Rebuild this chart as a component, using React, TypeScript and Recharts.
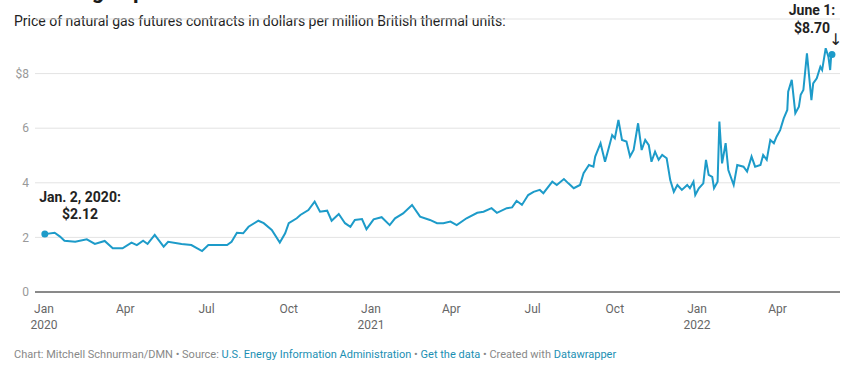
import React from 'react';
import { CartesianGrid, Line, LineChart, XAxis, YAxis } from 'recharts';

// Henry Hub natural gas futures, $/MMBtu
const dates = [
  '2020-01-02', '2020-01-13', '2020-01-19', '2020-01-24', '2020-02-05', '2020-02-18', '2020-02-27', '2020-03-09',
  '2020-03-18', '2020-03-29', '2020-04-08', '2020-04-14', '2020-04-21', '2020-04-26', '2020-05-04', '2020-05-14',
  '2020-05-19', '2020-06-03', '2020-06-14', '2020-06-26', '2020-07-03', '2020-07-14', '2020-07-24', '2020-07-29',
  '2020-08-04', '2020-08-11', '2020-08-17', '2020-08-28', '2020-09-03', '2020-09-12', '2020-09-21', '2020-09-27',
  '2020-10-01', '2020-10-10', '2020-10-14', '2020-10-23', '2020-10-30', '2020-11-05', '2020-11-13', '2020-11-18',
  '2020-11-26', '2020-12-03', '2020-12-09', '2020-12-14', '2020-12-22', '2020-12-27', '2021-01-04', '2021-01-13',
  '2021-01-22', '2021-01-28', '2021-02-06', '2021-02-16', '2021-02-25', '2021-03-08', '2021-03-16', '2021-03-23',
  '2021-03-31', '2021-04-07', '2021-04-18', '2021-04-30', '2021-05-07', '2021-05-16', '2021-05-22', '2021-06-02',
  '2021-06-08', '2021-06-13', '2021-06-19', '2021-06-26', '2021-07-02', '2021-07-09', '2021-07-13', '2021-07-23',
  '2021-07-28', '2021-08-05', '2021-08-10', '2021-08-16', '2021-08-23', '2021-08-27', '2021-09-02', '2021-09-07',
  '2021-09-09', '2021-09-15', '2021-09-20', '2021-09-24', '2021-09-28', '2021-10-01', '2021-10-05', '2021-10-09',
  '2021-10-14', '2021-10-18', '2021-10-22', '2021-10-27', '2021-10-31', '2021-11-04', '2021-11-08', '2021-11-11',
  '2021-11-15', '2021-11-19', '2021-11-23', '2021-11-28', '2021-12-02', '2021-12-06', '2021-12-10', '2021-12-15',
  '2021-12-21', '2021-12-24', '2021-12-28', '2021-12-30', '2022-01-03', '2022-01-08', '2022-01-11', '2022-01-14',
  '2022-01-18', '2022-01-20', '2022-01-24', '2022-01-26', '2022-01-29', '2022-02-02', '2022-02-05', '2022-02-11',
  '2022-02-15', '2022-02-22', '2022-02-26', '2022-03-03', '2022-03-07', '2022-03-13', '2022-03-16', '2022-03-20',
  '2022-03-24', '2022-03-28', '2022-03-31', '2022-04-04', '2022-04-08', '2022-04-12', '2022-04-13', '2022-04-17',
  '2022-04-21', '2022-04-25', '2022-04-27', '2022-04-30', '2022-05-04', '2022-05-09', '2022-05-11', '2022-05-15',
  '2022-05-19', '2022-05-21', '2022-05-25', '2022-05-28', '2022-05-30', '2022-05-31', '2022-06-01',
];

const prices = [
  2.12, 2.17, 2.03, 1.88, 1.84, 1.93, 1.76, 1.87,
  1.6, 1.6, 1.81, 1.72, 1.88, 1.76, 2.09, 1.66,
  1.84, 1.76, 1.72, 1.5, 1.72, 1.72, 1.72, 1.84,
  2.17, 2.15, 2.39, 2.61, 2.52, 2.27, 1.81, 2.15,
  2.52, 2.7, 2.82, 3.0, 3.31, 2.94, 2.98, 2.61,
  2.86, 2.52, 2.39, 2.64, 2.67, 2.3, 2.66, 2.74,
  2.45, 2.7, 2.88, 3.19, 2.76, 2.64, 2.52, 2.52,
  2.58, 2.45, 2.7, 2.9, 2.94, 3.07, 2.9, 3.07,
  3.1, 3.34, 3.19, 3.55, 3.67, 3.74, 3.62, 4.04,
  3.92, 4.14, 3.98, 3.8, 3.92, 4.35, 4.65, 4.59,
  4.96, 5.45, 4.77, 5.26, 5.75, 5.63, 6.3, 5.57,
  5.51, 4.96, 5.2, 6.18, 5.2, 5.57, 5.38, 4.77,
  5.14, 4.84, 5.02, 4.9, 4.1, 3.67, 3.92, 3.74,
  3.92, 3.8, 4.04, 3.55, 3.8, 3.98, 4.84, 4.29,
  4.22, 3.8, 4.04, 6.24, 4.71, 5.45, 4.47, 3.92,
  4.65, 4.59, 4.41, 4.96, 4.59, 4.65, 5.02, 4.84,
  5.57, 5.45, 5.69, 5.93, 6.36, 6.67, 7.34, 7.77,
  6.55, 6.79, 7.22, 7.4, 8.74, 7.03, 7.64, 7.83,
  8.25, 8.13, 8.93, 8.62, 8.13, 8.6, 8.7,
];

const tickDates = [
  '2020-01-01', '2020-04-01', '2020-07-01', '2020-10-01', '2021-01-01',
  '2021-04-01', '2021-07-01', '2021-10-01', '2022-01-01', '2022-04-01',
];
const tickMonths = ['Jan', 'Apr', 'Jul', 'Oct', 'Jan', 'Apr', 'Jul', 'Oct', 'Jan', 'Apr'];
const tickYears = ['2020', '', '', '', '2021', '', '', '', '2022', ''];
const yTicks = [0, 2, 4, 6, 8];

const BLUE = '#1d9bc9';
const FONT = 'Roboto, "Noto Sans", sans-serif';

function dayIndex(iso: string): number {
  const [y, m, d] = iso.split('-').map(Number);
  return Math.round((Date.UTC(y, m - 1, d) - Date.UTC(2020, 0, 1)) / 86400000);
}

const data = dates.map((d, i) => ({ day: dayIndex(d), price: prices[i] }));
const xTicks = tickDates.map(dayIndex);

function XTick(props: any) {
  const { x, y, payload } = props;
  const i = xTicks.indexOf(payload.value);
  return (
    <g transform={`translate(${x},${y})`}>
      <text textAnchor="middle" y={13} fontSize={12} fill="#666" fontFamily={FONT}>
        {tickMonths[i]}
      </text>
      {tickYears[i] && (
        <text textAnchor="middle" y={29} fontSize={12} fill="#666" fontFamily={FONT}>
          {tickYears[i]}
        </text>
      )}
    </g>
  );
}

function EndDot(props: any) {
  const { cx, cy, index } = props;
  if (index !== 0 && index !== data.length - 1) return <g key={index} />;
  return <circle key={index} cx={cx} cy={cy} r={3.5} fill={BLUE} stroke="none" />;
}

export default function App() {
  return (
    <div style={{ position: 'relative', width: 857, height: 368, background: '#fff', fontFamily: FONT, overflow: 'hidden' }}>
      <style>{'body{margin:0}'}</style>
      <div style={{ position: 'absolute', left: 14, top: -22, fontSize: 22, fontWeight: 700, color: '#1a1a1a', whiteSpace: 'nowrap' }}>
        Natural gas prices
      </div>
      <div style={{ position: 'absolute', left: 14, top: 13, fontSize: 14, color: '#222', whiteSpace: 'nowrap' }}>
        Price of natural gas futures contracts in dollars per million British thermal units:
      </div>

      <div style={{ position: 'absolute', left: 0, top: 0 }}>
        <LineChart width={857} height={368} data={data} margin={{ top: 19, right: 17, bottom: 0, left: 0 }}>
          <CartesianGrid stroke="#e3e3e3" vertical={false} />
          <XAxis
            dataKey="day"
            type="number"
            domain={[-10, 891]}
            ticks={xTicks}
            tick={<XTick />}
            tickLine={false}
            axisLine={{ stroke: '#222', strokeWidth: 1 }}
            interval={0}
            height={76}
          />
          <YAxis
            type="number"
            domain={[0, 10]}
            ticks={yTicks}
            width={35}
            axisLine={false}
            tickLine={false}
            tickSize={0}
            tickMargin={6}
            tick={{ fill: '#999', fontSize: 12, fontFamily: FONT }}
            tickFormatter={(v: number) => (v === 8 ? '$8' : String(v))}
          />
          <Line
            dataKey="price"
            stroke={BLUE}
            strokeWidth={2}
            dot={EndDot}
            activeDot={false}
            isAnimationActive={false}
          />
        </LineChart>
      </div>

      <div style={{ position: 'absolute', left: 20, top: 189, width: 120, textAlign: 'center', fontSize: 14, fontWeight: 700, color: '#222', lineHeight: '17px' }}>
        Jan. 2, 2020:
        <br />
        $2.12
      </div>
      <div style={{ position: 'absolute', left: 762, top: 1, width: 100, textAlign: 'center', fontSize: 14, fontWeight: 700, color: '#222', lineHeight: '18px' }}>
        June 1:
        <br />
        $8.70
      </div>
      <div style={{ position: 'absolute', left: 829, top: 31, fontSize: 16, lineHeight: '18px', color: '#222', fontFamily: '"DejaVu Sans", sans-serif' }}>↓</div>

      <div style={{ position: 'absolute', left: 14, top: 348, fontSize: 11, color: '#888', whiteSpace: 'nowrap' }}>
        Chart: Mitchell Schnurman/DMN • Source: <span style={{ color: '#1b8fb3' }}>U.S. Energy Information Administration</span> •{' '}
        <span style={{ color: '#1b8fb3' }}>Get the data</span> • Created with <span style={{ color: '#1b8fb3' }}>Datawrapper</span>
      </div>
    </div>
  );
}
